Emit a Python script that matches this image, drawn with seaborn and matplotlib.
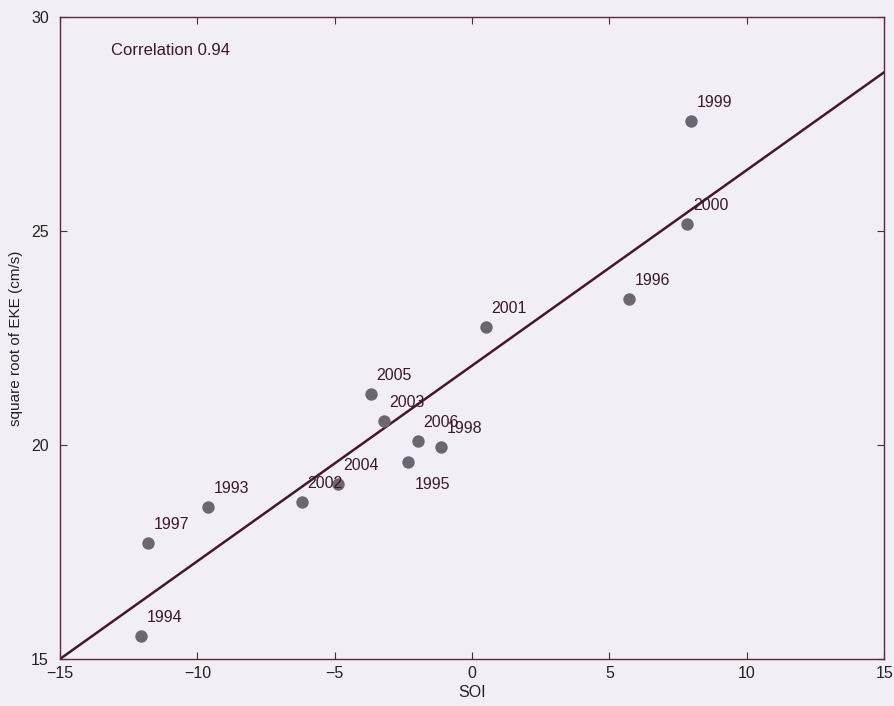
import numpy as np
import pandas as pd
import matplotlib
matplotlib.use('Agg')
import matplotlib.pyplot as plt
import seaborn as sns

# values
years = ['1993', '1994', '1995', '1996', '1997', '1998', '1999', '2000',
         '2001', '2002', '2003', '2004', '2005', '2006']
soi = [-9.6, -12.05, -2.33, 5.72, -11.8, -1.13, 7.97, 7.83,
       0.51, -6.19, -3.2, -4.88, -3.68, -1.97]
eke = [18.55, 15.54, 19.6, 23.41, 17.71, 19.95, 27.57, 25.16,
       22.76, 18.67, 20.56, 19.09, 21.19, 20.09]
fit_x = [-15, 15]
fit_y = [15.0, 28.71]

df = pd.DataFrame({'SOI': soi, 'EKE': eke, 'year': years})
line_df = pd.DataFrame({'SOI': fit_x, 'EKE': fit_y})

sns.set_style('ticks')
plt.rcParams['font.family'] = ['Liberation Sans', 'DejaVu Sans']

bg = '#f1eef5'
axcol = '#5a2a3a'
txtcol = '#3a1a28'

fig = plt.figure(figsize=(8.95, 7.06), dpi=100, facecolor=bg)
ax = fig.add_axes([0.067, 0.0666, 0.921, 0.9094])
ax.set_facecolor(bg)

sns.lineplot(data=line_df, x='SOI', y='EKE', ax=ax, color='#451828', lw=1.8)
sns.scatterplot(data=df, x='SOI', y='EKE', ax=ax, color='#6d6670', s=80,
                edgecolor='#6d6670', linewidth=0, zorder=3)

# label placement
for _, r in df.iterrows():
    if r['year'] == '1995':
        ax.annotate(r['year'], (r['SOI'], r['EKE']), xytext=(5, -11),
                    textcoords='offset points', ha='left', va='top',
                    fontsize=11.5, color=txtcol)
    else:
        ax.annotate(r['year'], (r['SOI'], r['EKE']), xytext=(4, 8),
                    textcoords='offset points', ha='left', va='bottom',
                    fontsize=11.5, color=txtcol)

ax.text(0.062, 0.96, 'Correlation 0.94', transform=ax.transAxes,
        fontsize=12, color=txtcol, va='top')

ax.set_xlim(-15, 15)
ax.set_ylim(15, 30)
ax.set_xticks([-15, -10, -5, 0, 5, 10, 15])
ax.set_yticks([15, 20, 25, 30])
ax.tick_params(direction='in', top=True, right=True, length=5,
               color=axcol, labelcolor='#222222', labelsize=11.5)
ax.tick_params(axis='y', pad=8)
ax.tick_params(axis='x', pad=5)
for s in ax.spines.values():
    s.set_visible(True)
    s.set_color(axcol)
    s.set_linewidth(1.0)

ax.set_xlabel('SOI', fontsize=11.5, color='#222222', labelpad=3)
ax.set_ylabel('square root of EKE (cm/s)', fontsize=11, color='#222222', labelpad=6)

fig.savefig('out.png', dpi=100, facecolor=bg)
